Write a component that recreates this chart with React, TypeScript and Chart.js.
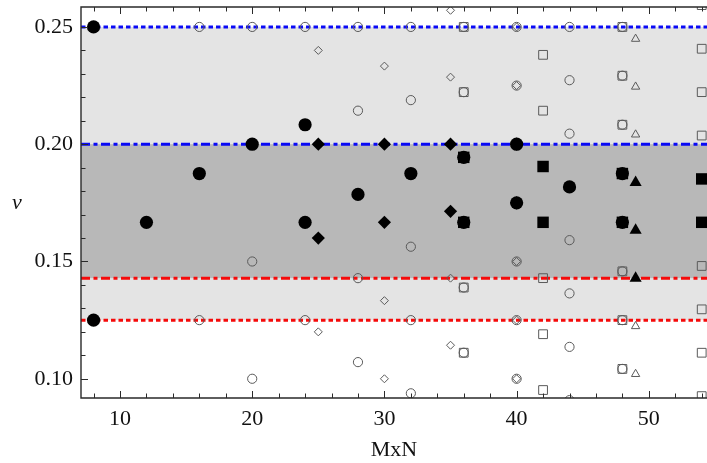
import React, { useEffect, useRef } from "react";
import { Chart, registerables } from "chart.js";

Chart.register(...registerables);

// Axis tick labels
const xTickLabels = [10, 20, 30, 40, 50];
const yTickLabels = [0.1, 0.15, 0.2, 0.25];

// Shaded bands [low, high]
const outerBand = [0.125, 0.25];
const innerBand = [0.1429, 0.2];

// Horizontal reference levels
const refLevels = [0.25, 0.2, 0.1429, 0.125];

// Filled markers
const fCircleX = [8, 8, 12, 16, 20, 24, 24, 28, 32, 36, 36, 40, 40, 44, 48, 48];
const fCircleY = [0.25, 0.125, 0.1667, 0.1875, 0.2, 0.2083, 0.1667, 0.1786, 0.1875, 0.1944, 0.1667, 0.2, 0.175, 0.1818, 0.1875, 0.1667];
const fDiamondX = [25, 25, 30, 30, 35, 35, 40, 40];
const fDiamondY = [0.2, 0.16, 0.2, 0.1667, 0.2, 0.1714, 0.2, 0.175];
const fSquareX = [36, 36, 42, 42, 48, 48, 54, 54];
const fSquareY = [0.1944, 0.1667, 0.1905, 0.1667, 0.1875, 0.1667, 0.1852, 0.1667];
const fTriangleX = [49, 49, 49];
const fTriangleY = [0.1837, 0.1633, 0.1429];

// Open markers
const oCircleX = [16, 16, 20, 20, 20, 24, 24, 28, 28, 28, 28, 32, 32, 32, 32, 32, 36, 36, 36, 36, 40, 40, 40, 40, 40, 44, 44, 44, 44, 44, 44, 44, 48, 48, 48, 48, 48, 48];
const oCircleY = [0.25, 0.125, 0.25, 0.15, 0.1, 0.25, 0.125, 0.25, 0.2143, 0.1429, 0.1071, 0.25, 0.2188, 0.1563, 0.125, 0.0938, 0.25, 0.2222, 0.1389, 0.1111, 0.25, 0.225, 0.15, 0.125, 0.1, 0.25, 0.2273, 0.2045, 0.1591, 0.1364, 0.1136, 0.0909, 0.25, 0.2292, 0.2083, 0.1458, 0.125, 0.1042];
const oDiamondX = [25, 25, 30, 30, 30, 35, 35, 35, 35, 40, 40, 40, 40, 40];
const oDiamondY = [0.24, 0.12, 0.2333, 0.1333, 0.1, 0.2571, 0.2286, 0.1429, 0.1143, 0.25, 0.225, 0.15, 0.125, 0.1];
const oSquareX = [36, 36, 36, 36, 42, 42, 42, 42, 42, 48, 48, 48, 48, 48, 48, 54, 54, 54, 54, 54, 54, 54, 54];
const oSquareY = [0.25, 0.2222, 0.1389, 0.1111, 0.2381, 0.2143, 0.1429, 0.119, 0.0952, 0.25, 0.2292, 0.2083, 0.1458, 0.125, 0.1042, 0.2593, 0.2407, 0.2222, 0.2037, 0.1481, 0.1296, 0.1111, 0.0926];
const oTriangleX = [49, 49, 49, 49, 49];
const oTriangleY = [0.2449, 0.2245, 0.2041, 0.1224, 0.102];

const pts = (xs: number[], ys: number[]) => xs.map((x, i) => ({ x, y: ys[i] }));

const SERIF = "'Liberation Serif', 'Times New Roman', serif";
Chart.defaults.font.family = SERIF;

const refStyles = [
  { color: "#0a0af5", dash: [4.5, 3] },
  { color: "#0a0af5", dash: [9, 3.5, 4, 3.5] },
  { color: "#f50a0a", dash: [9, 3.5, 4, 3.5] },
  { color: "#f50a0a", dash: [4.5, 3] },
];

const noPadding = (scale: any) => {
  scale.paddingTop = 0;
  scale.paddingBottom = 0;
  scale.paddingLeft = 0;
  scale.paddingRight = 0;
};

const framePlugin = {
  id: "frame",
  beforeDatasetsDraw(chart: any) {
    const { ctx, chartArea: a, scales } = chart;
    const y = scales.y;
    ctx.save();
    ctx.beginPath();
    ctx.rect(a.left, a.top, a.right - a.left, a.bottom - a.top);
    ctx.clip();
    const band = (lo: number, hi: number, color: string) => {
      const y1 = y.getPixelForValue(hi);
      const y2 = y.getPixelForValue(lo);
      ctx.fillStyle = color;
      ctx.fillRect(a.left, y1, a.right - a.left, y2 - y1);
    };
    band(outerBand[0], outerBand[1], "#e4e4e4");
    band(innerBand[0], innerBand[1], "#b8b8b8");
    refLevels.forEach((lv, i) => {
      const py = y.getPixelForValue(lv);
      ctx.beginPath();
      ctx.strokeStyle = refStyles[i].color;
      ctx.lineWidth = 3;
      ctx.setLineDash(refStyles[i].dash);
      ctx.moveTo(a.left, py);
      ctx.lineTo(a.right, py);
      ctx.stroke();
    });
    ctx.restore();
  },
  afterDatasetsDraw(chart: any) {
    const { ctx, chartArea: a, scales } = chart;
    const x = scales.x;
    const y = scales.y;
    ctx.save();
    ctx.strokeStyle = "#2a2a2a";
    ctx.lineWidth = 1.4;
    ctx.beginPath();
    ctx.moveTo(a.right, a.top);
    ctx.lineTo(a.left, a.top);
    ctx.lineTo(a.left, a.bottom);
    ctx.lineTo(a.right, a.bottom);
    ctx.stroke();

    ctx.lineWidth = 1;
    ctx.beginPath();
    for (let v = 8; v <= 54; v += 2) {
      const px = Math.round(x.getPixelForValue(v)) + 0.5;
      const len = v % 10 === 0 ? 7 : 4.5;
      ctx.moveTo(px, a.bottom);
      ctx.lineTo(px, a.bottom - len);
      ctx.moveTo(px, a.top);
      ctx.lineTo(px, a.top + len);
    }
    for (let k = 10; k <= 25; k++) {
      const py = Math.round(y.getPixelForValue(k / 100)) + 0.5;
      const len = k % 5 === 0 ? 7 : 4.5;
      ctx.moveTo(a.left, py);
      ctx.lineTo(a.left + len, py);
    }
    ctx.stroke();

    ctx.fillStyle = "#111";
    ctx.font = `italic 22px ${SERIF}`;
    ctx.textAlign = "center";
    ctx.textBaseline = "alphabetic";
    ctx.fillText("ν", 17, 209);
    ctx.restore();
  },
};

export default function App() {
  const canvasRef = useRef<HTMLCanvasElement | null>(null);

  useEffect(() => {
    const canvas = canvasRef.current;
    if (!canvas) return;

    const filled = (label: string, xs: number[], ys: number[], style: string, r: number) => ({
      label,
      data: pts(xs, ys),
      pointStyle: style,
      pointRadius: r,
      pointHoverRadius: r,
      backgroundColor: "#000",
      borderColor: "#000",
      borderWidth: 0,
      clip: 0,
    });
    const open = (label: string, xs: number[], ys: number[], style: string, r: number) => ({
      label,
      data: pts(xs, ys),
      pointStyle: style,
      pointRadius: r,
      pointHoverRadius: r,
      backgroundColor: "rgba(0,0,0,0)",
      borderColor: "#5a5a5a",
      borderWidth: 1,
      clip: 0,
    });

    const chart = new Chart(canvas, {
      type: "scatter",
      data: {
        datasets: [
          filled("M=4", fCircleX, fCircleY, "circle", 6.6),
          filled("M=5", fDiamondX, fDiamondY, "rectRot", 6.6),
          filled("M=6", fSquareX, fSquareY, "rect", 8.1),
          filled("M=7", fTriangleX, fTriangleY, "triangle", 7),
          open("M=4 other", oCircleX, oCircleY, "circle", 4.6),
          open("M=5 other", oDiamondX, oDiamondY, "rectRot", 4),
          open("M=6 other", oSquareX, oSquareY, "rect", 6.2),
          open("M=7 other", oTriangleX, oTriangleY, "triangle", 4.8),
        ] as any,
      },
      options: {
        responsive: false,
        animation: false,
        events: [],
        layout: { autoPadding: false, padding: { top: 7, left: 0, right: 0, bottom: 0 } },
        plugins: {
          legend: { display: false },
          tooltip: { enabled: false },
        },
        scales: {
          x: {
            type: "linear",
            min: 7.05,
            max: 54.4,
            grid: { display: false, drawTicks: false },
            border: { display: false },
            title: {
              display: true,
              text: "MxN",
              color: "#111",
              font: { family: SERIF, size: 22 },
              padding: { top: 0, bottom: 0 },
            },
            ticks: {
              color: "#111",
              padding: 8,
              font: { family: SERIF, size: 22 },
              callback: (v: any) => String(v),
            },
            afterBuildTicks: (scale: any) => {
              scale.ticks = xTickLabels.map((v) => ({ value: v }));
            },
            afterFit: (scale: any) => {
              scale.height = 65;
              noPadding(scale);
            },
          },
          y: {
            type: "linear",
            min: 0.0918,
            max: 0.2585,
            grid: { display: false, drawTicks: false },
            border: { display: false },
            ticks: {
              color: "#111",
              padding: 8,
              font: { family: SERIF, size: 22 },
              callback: (v: any) => Number(v).toFixed(2),
            },
            afterBuildTicks: (scale: any) => {
              scale.ticks = yTickLabels.map((v) => ({ value: v }));
            },
            afterFit: (scale: any) => {
              scale.width = 81;
              noPadding(scale);
            },
          },
        },
      } as any,
      plugins: [framePlugin],
    });

    return () => chart.destroy();
  }, []);

  return (
    <div style={{ position: "fixed", left: 0, top: 0, width: 707, height: 463, background: "#fff" }}>
      <canvas ref={canvasRef} width={707} height={463} style={{ display: "block" }} />
    </div>
  );
}
